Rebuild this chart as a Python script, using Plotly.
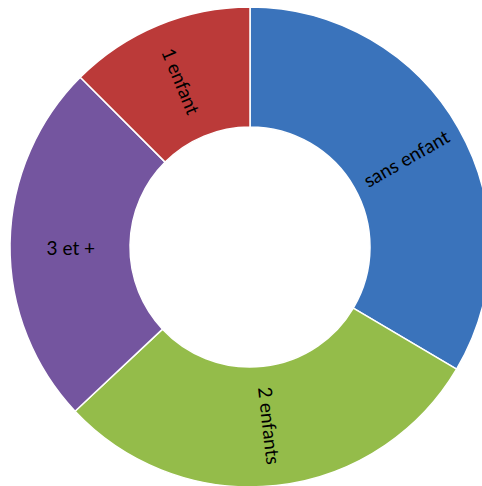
import plotly.graph_objects as go

labels = ["sans enfant", "2 enfants", "3 et +", "1 enfant"]
values = [33.5, 29.5, 24.5, 12.5]
colors = ["#3a73bb", "#94bc4a", "#74559f", "#bb3a39"]

FONT = dict(family="Lato, Open Sans, Liberation Sans, sans-serif", size=19, color="black")

total = sum(values)

# main ring (labels for every slice but the first, which is placed by a helper ring)
main_text = [""] + labels[1:]
fig = go.Figure(go.Pie(
    labels=labels,
    values=values,
    text=main_text,
    hole=0.5,
    sort=False,
    direction="clockwise",
    rotation=0,
    marker=dict(colors=colors, line=dict(color="white", width=1.5)),
    textinfo="text",
    textposition="inside",
    insidetextorientation="radial",
    textfont=FONT,
    showlegend=False,
    hoverinfo="label+percent",
))

# transparent helper ring: a slice centred on the first slice's middle,
# kept short of the 90 degree mark so the label stays radial
half = values[0] / 2
d = 0.07 * total
helper_vals = [half - d, 2 * d, total - half - d]
fig.add_trace(go.Pie(
    values=helper_vals,
    labels=["a", "b", "c"],
    text=["", labels[0], ""],
    hole=0.5,
    sort=False,
    direction="clockwise",
    rotation=0,
    marker=dict(colors=["rgba(0,0,0,0)"] * 3, line=dict(width=0)),
    textinfo="text",
    textposition="inside",
    insidetextorientation="radial",
    textfont=FONT,
    showlegend=False,
    hoverinfo="skip",
))

fig.update_layout(
    width=490,
    height=487,
    autosize=False,
    margin=dict(l=10, r=0, t=7, b=0, pad=0),
    paper_bgcolor="white",
    plot_bgcolor="white",
)

fig.write_html(
    "out.html",
    config={"displayModeBar": False},
    post_script="document.body.style.margin='0';document.body.style.overflow='hidden';",
)
